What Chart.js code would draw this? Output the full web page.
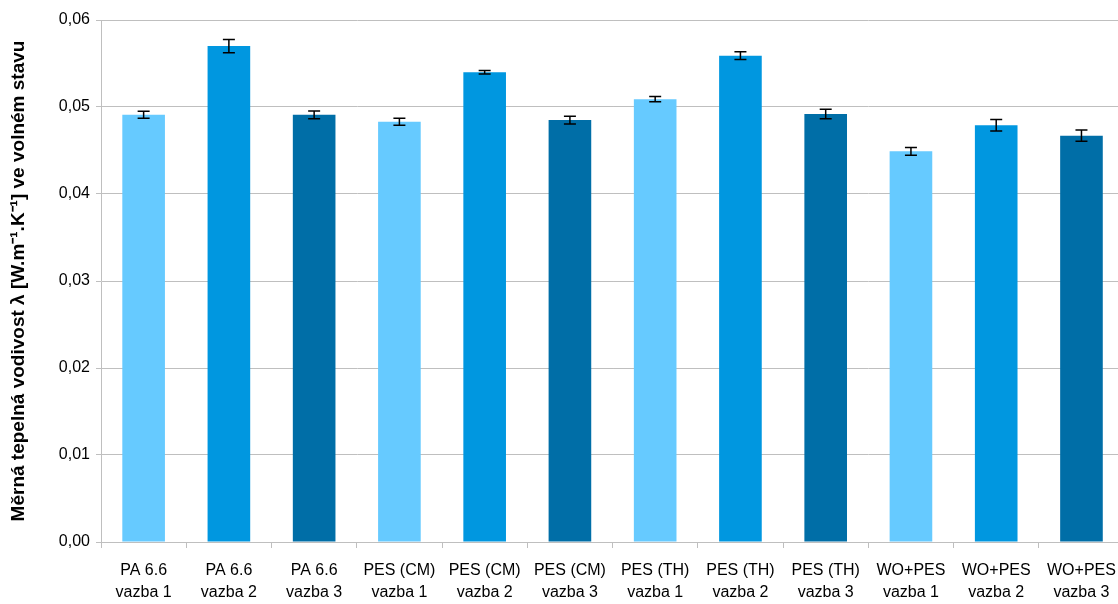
<!DOCTYPE html>
<html>
<head>
<meta charset="utf-8">
<script src="https://cdn.jsdelivr.net/npm/chart.js@4/dist/chart.umd.min.js"></script>
<style>
  html, body { margin: 0; padding: 0; background: #fff; overflow: hidden; }
  #wrap { width: 1128px; height: 604px; }
</style>
</head>
<body>
<div id="wrap"><canvas id="chart" width="1128" height="604"></canvas></div>
<script>
// Materiál a vazba (dvouřádkové popisky osy X)
const materials = ['PA 6.6', 'PA 6.6', 'PA 6.6', 'PES (CM)', 'PES (CM)', 'PES (CM)',
                   'PES (TH)', 'PES (TH)', 'PES (TH)', 'WO+PES', 'WO+PES', 'WO+PES'];
const bindings = ['vazba 1', 'vazba 2', 'vazba 3', 'vazba 1', 'vazba 2', 'vazba 3',
                  'vazba 1', 'vazba 2', 'vazba 3', 'vazba 1', 'vazba 2', 'vazba 3'];

// Měrná tepelná vodivost [W.m-1.K-1] a směrodatná odchylka
const lambdaValues = [0.0491, 0.0570, 0.0491, 0.0483, 0.0540, 0.0485,
                      0.0509, 0.0559, 0.0492, 0.0449, 0.0479, 0.0467];
const lambdaErrors = [0.0004, 0.00075, 0.00045, 0.0004, 0.0002, 0.00045,
                      0.0003, 0.00045, 0.00055, 0.00045, 0.00065, 0.00065];

const yTicks = [0, 0.01, 0.02, 0.03, 0.04, 0.05, 0.06];

const bindingColors = ['#66CAFF', '#0097E0', '#006EA7'];
const FONT = '"Liberation Sans Narrow", "Liberation Sans", sans-serif';

// Chybové úsečky - Chart.js je nemá, kreslíme je sami
const errorBars = {
    id: 'errorBars',
    afterDatasetsDraw(chart) {
        const ctx = chart.ctx;
        const yScale = chart.scales.y;
        const meta = chart.getDatasetMeta(0);
        ctx.save();
        ctx.strokeStyle = '#000';
        ctx.lineWidth = 1.5;
        meta.data.forEach((bar, i) => {
            const top = yScale.getPixelForValue(lambdaValues[i] + lambdaErrors[i]);
            const bot = yScale.getPixelForValue(lambdaValues[i] - lambdaErrors[i]);
            const cap = 6;
            ctx.beginPath();
            ctx.moveTo(bar.x, top); ctx.lineTo(bar.x, bot);
            ctx.moveTo(bar.x - cap, top); ctx.lineTo(bar.x + cap, top);
            ctx.moveTo(bar.x - cap, bot); ctx.lineTo(bar.x + cap, bot);
            ctx.stroke();
        });
        ctx.restore();
    }
};

new Chart(document.getElementById('chart'), {
    type: 'bar',
    data: {
        labels: materials.map((m, i) => [m, bindings[i]]),
        datasets: [{
            data: lambdaValues,
            backgroundColor: lambdaValues.map((v, i) => bindingColors[i % 3]),
            borderWidth: 0,
            barPercentage: 0.5,
            categoryPercentage: 1.0
        }]
    },
    options: {
        responsive: false,
        animation: false,
        layout: { padding: { top: 20, right: 2, left: 0, bottom: 0 } },
        plugins: { legend: { display: false }, tooltip: { enabled: false } },
        scales: {
            x: {
                grid: { offset: true, drawOnChartArea: false, color: '#BFBFBF', tickLength: 6 },
                border: { color: '#BFBFBF' },
                ticks: {
                    color: '#000',
                    font: { family: FONT, size: 16, lineHeight: 1.375 },
                    maxRotation: 0, autoSkip: false, padding: 12
                },
                afterFit: s => { s.height = 62; }
            },
            y: {
                min: 0,
                max: 0.06,
                afterBuildTicks: s => { s.ticks = yTicks.map(v => ({ value: v })); },
                grid: { color: '#BFBFBF', tickLength: 5 },
                border: { color: '#BFBFBF' },
                ticks: {
                    color: '#000',
                    font: { family: FONT, size: 16 },
                    padding: 6,
                    callback: v => v.toFixed(2).replace('.', ',')
                },
                title: {
                    display: true,
                    text: 'Měrná tepelná vodivost λ [W.m⁻¹.K⁻¹] ve volném stavu',
                    color: '#000',
                    font: { family: FONT, size: 19, weight: 'bold' },
                    padding: { top: 7, bottom: 0 }
                },
                afterFit: s => { s.width = 101; }
            }
        }
    },
    plugins: [errorBars]
});
</script>
</body>
</html>
